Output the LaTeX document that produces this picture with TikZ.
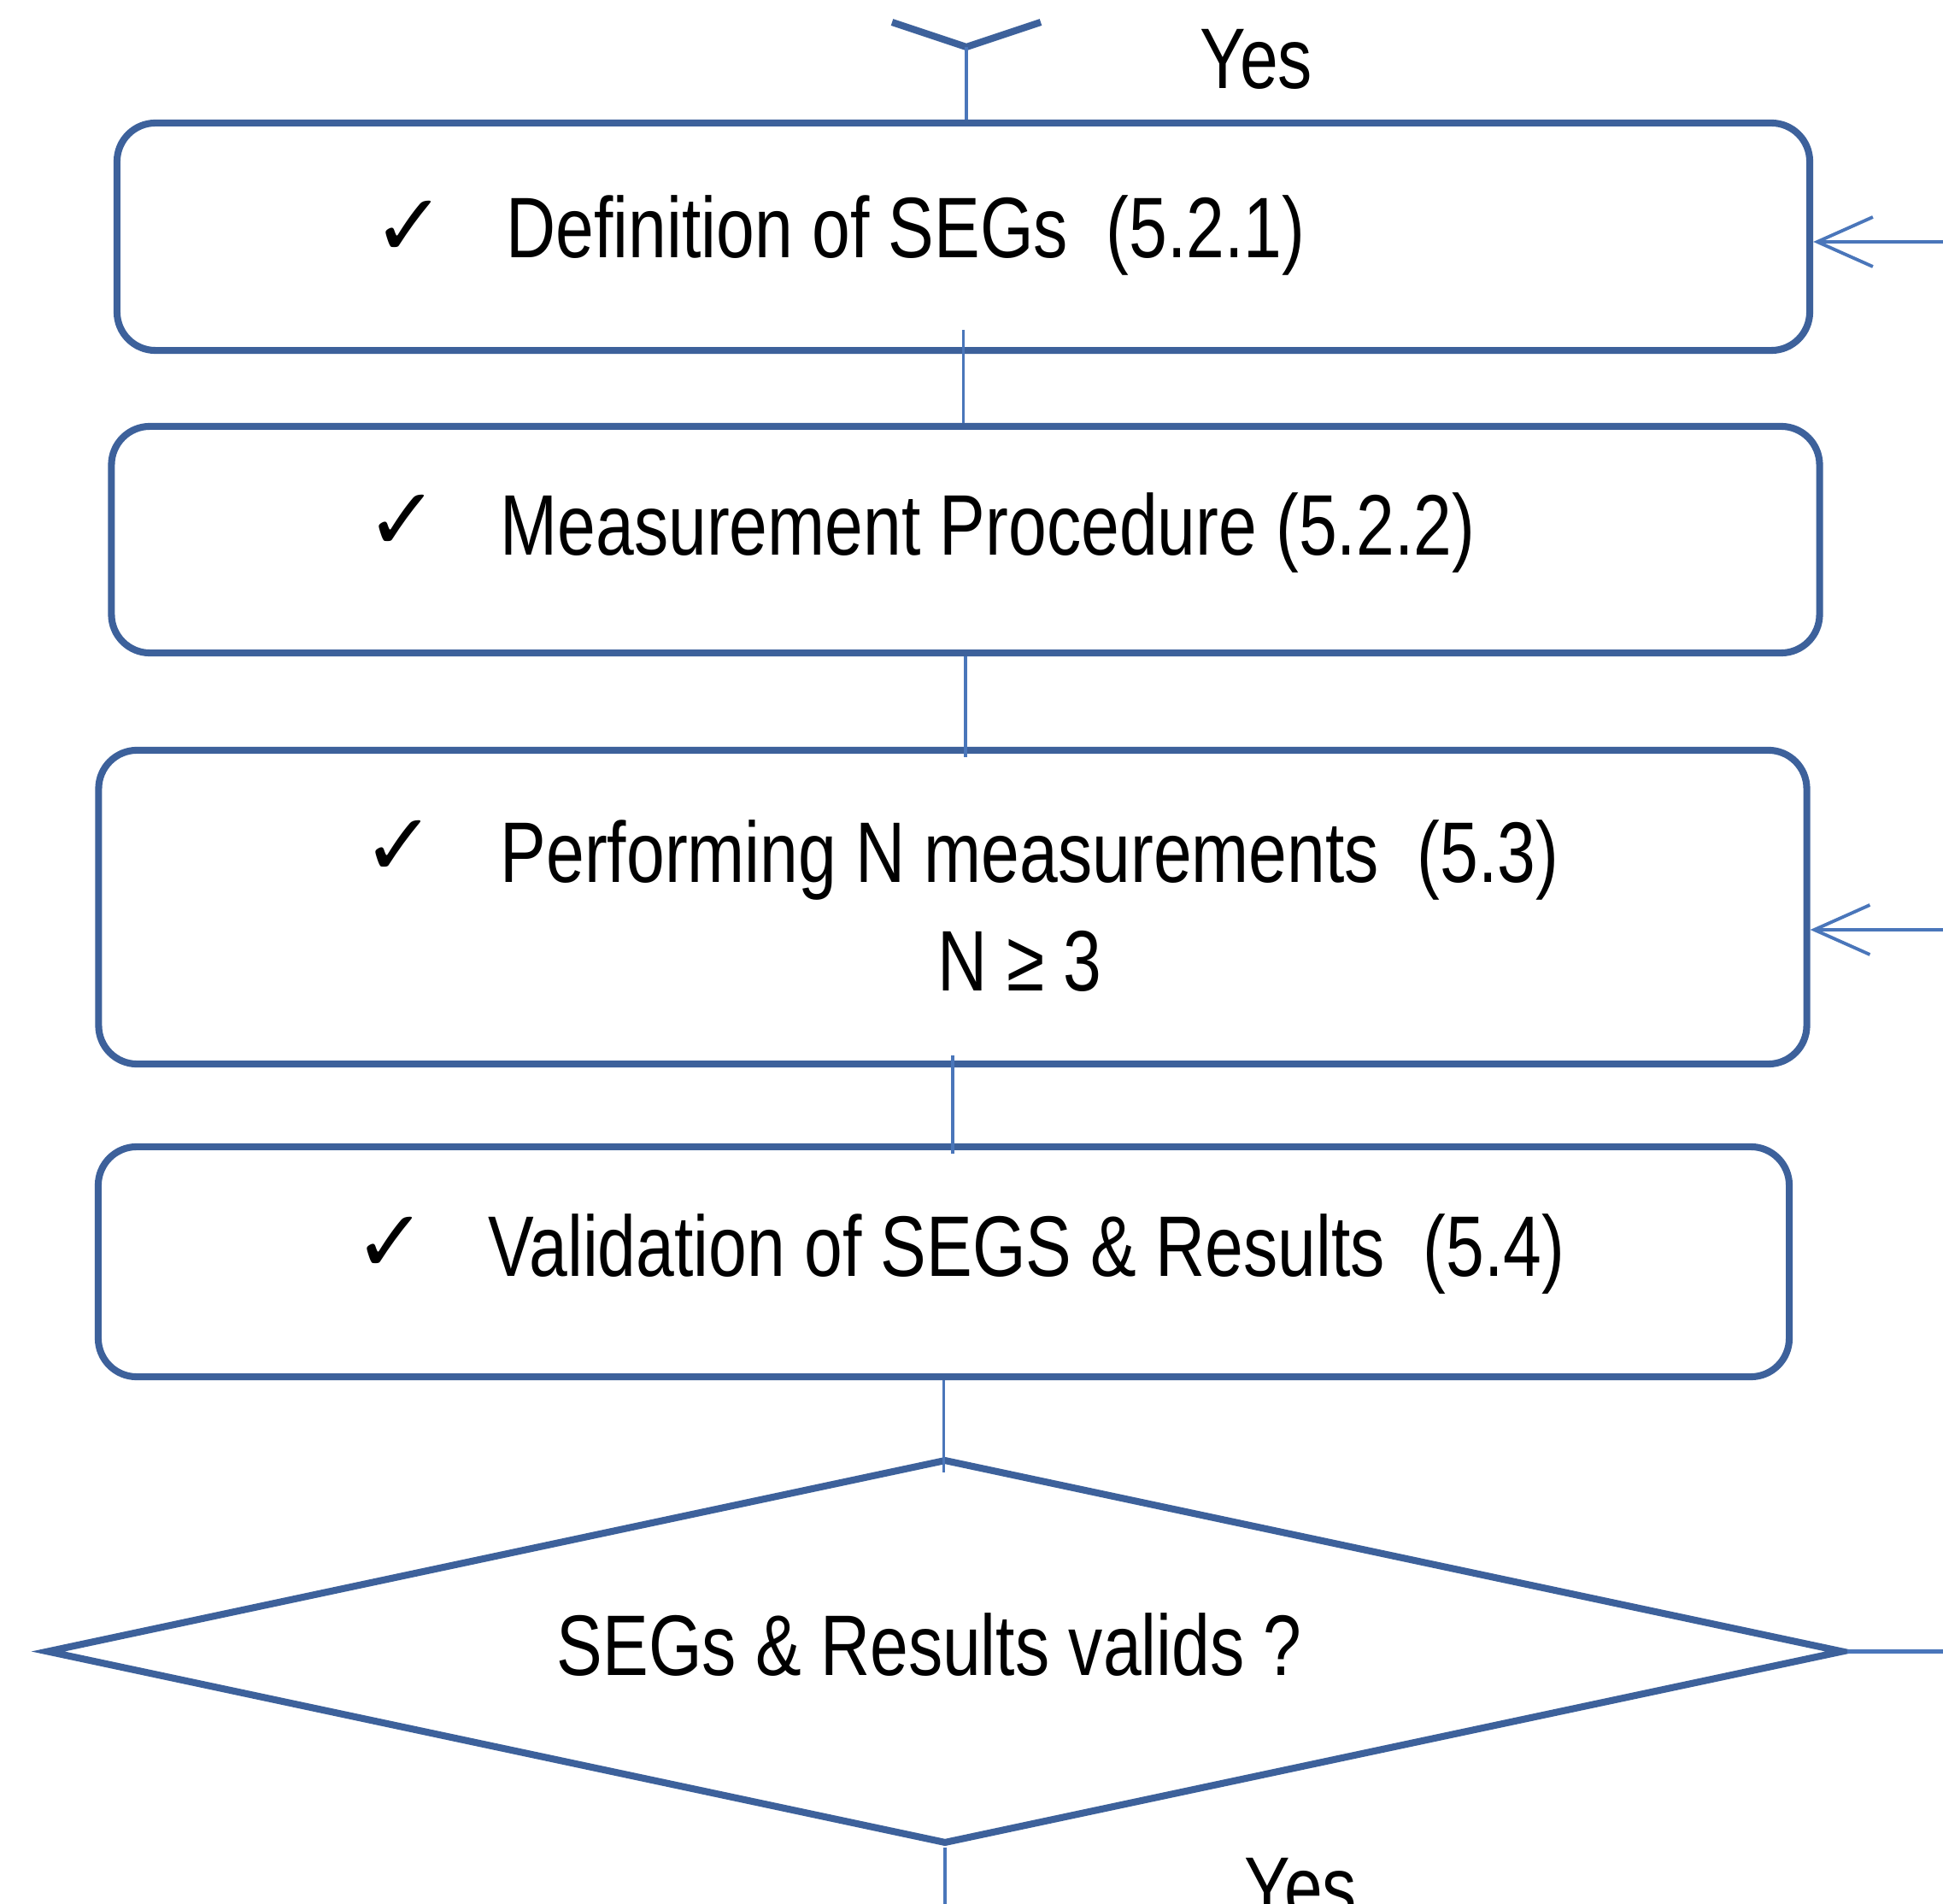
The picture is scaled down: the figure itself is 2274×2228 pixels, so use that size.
\documentclass[tikz,border=0pt]{standalone}
\usepackage{fontspec}
\setmainfont{Liberation Sans}[FakeStretch=0.8]
\newfontfamily\symfont{DejaVu Sans}
\usetikzlibrary{arrows.meta,shapes.geometric}

\definecolor{border}{HTML}{3D619B}
\definecolor{wire}{HTML}{4A76BA}

\begin{document}
\begin{tikzpicture}[x=0.01cm,y=-0.01cm,
  stage/.style={draw=border, line width=2.3pt, rounded corners=0.45cm, fill=white, inner sep=0pt},
  decision/.style={draw=border, line width=2.3pt, diamond, fill=white, inner sep=0pt},
  conn/.style={draw=wire, line width=1.1pt},
  feed/.style={conn, {Straight Barb[length=6.5mm,width=5.8mm]}-},
  txt/.style={font=\fontsize{28.6}{34}\selectfont, inner sep=0pt, anchor=base west, text=black},
  tick/.style={font=\symfont\fontsize{29}{32}\selectfont, inner sep=0pt, anchor=base west, text=black}]

\useasboundingbox (0,0) rectangle (2274,2228);
\clip (0,0) rectangle (2274,2228);

% tail of the preceding decision
\draw[border, line width=2.3pt] (1044,26) -- (1131,55) -- (1218,26);
\coordinate (prev) at (1131,55);

% process steps
\node[stage, minimum width=19.80cm, minimum height=2.66cm] (b1) at (1127.5,277) {};
\node[stage, minimum width=19.98cm, minimum height=2.65cm] (b2) at (1130,631.5) {};
\node[stage, minimum width=19.98cm, minimum height=3.67cm] (b3) at (1115,1061.5) {};
\node[stage, minimum width=19.78cm, minimum height=2.69cm] (b4) at (1104.5,1476.5) {};

% validity check
\node[decision, minimum width=21.02cm, minimum height=4.50cm] (q) at (1106,1932.5) {};

% right-hand margin and lower edge
\coordinate (r1) at (2274,283);
\coordinate (r3) at (2274,1088);
\coordinate (bot) at (1110,2228);

% vertical flow
\draw[conn] (prev) -- (prev |- b1.north);
\draw[conn] ([yshift=0.28cm]b1.south) -- (b1.south |- b2.north);
\draw[conn] (b2.south) -- ([yshift=-0.12cm]b2.south |- b3.north);
\draw[conn] ([yshift=0.14cm]b3.south) -- ([yshift=-0.12cm]b3.south |- b4.north);
\draw[conn] (b4.south) -- ([yshift=-0.2cm]b4.south |- q.north);
\draw[conn] (q.south) -- (q.south |- bot);

% loop-back arrows and the exit on the right
\draw[feed] (b1.east |- r1) -- (r1);
\draw[feed] (b3.east |- r3) -- (r3);
\draw[conn, line width=1.6pt] (q.east) -- (q.east -| r1);

% "Yes" above the first step, on a white patch over the border
\fill[white] (1320,20) rectangle (1624,138);
\node[txt] (yes1) at (1404,104) {Yes};

% step texts
\node[tick] (c1) at (436,300) {✓};
\node[txt] (t1) at (592,302) {Definition of SEGs\ \ (5.2.1)};

\node[tick] (c2) at (428,644) {✓};
\node[txt] (t2) at (585,650) {Measurement Procedure (5.2.2)};

\node[tick] (c3) at (424,1025) {✓};
\node[txt] (t3) at (585,1033) {Performing N measurements\ \ (5.3)};
\node[txt] (t3b) at (1097,1160) {N ≥ 3};

\node[tick] (c4) at (414,1489) {✓};
\node[txt] (t4) at (571,1494) {Validation of SEGS \& Results\ \ (5.4)};

\node[txt] (tq) at (651,1961) {SEGs \& Results valids ?};

\node[txt] (yes2) at (1456,2243) {Yes};
\end{tikzpicture}
\end{document}
